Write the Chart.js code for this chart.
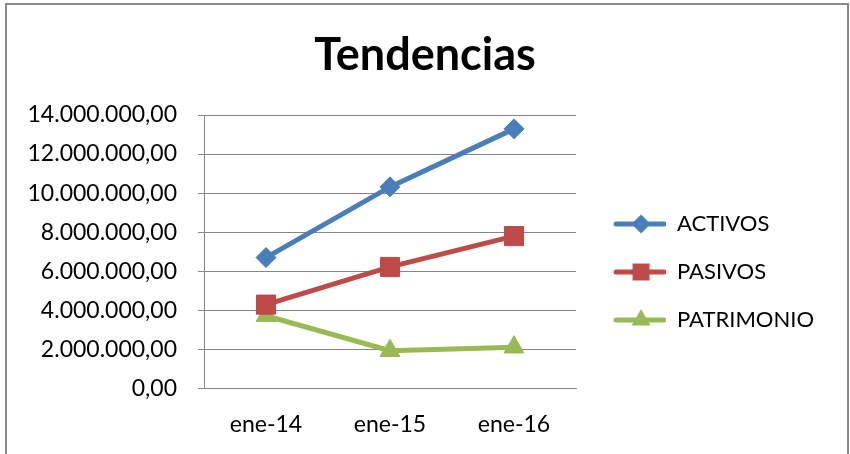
<!DOCTYPE html>
<html>
<head>
<meta charset="utf-8">
<script src="https://cdn.jsdelivr.net/npm/chart.js@4/dist/chart.umd.min.js"></script>
<style>
  html, body { margin: 0; padding: 0; background: #fff; }
  #wrap { width: 850px; height: 454px; }
</style>
</head>
<body>
<div id="wrap"><canvas id="tendencias-chart" width="850" height="454"></canvas></div>
<script>
// datos
const periodos = ["ene-14", "ene-15", "ene-16"];
const activos = [6700000, 10320000, 13290000];
const pasivos = [4290000, 6220000, 7800000];
const patrimonio = [3720000, 1930000, 2110000];
const nombres = ["ACTIVOS", "PASIVOS", "PATRIMONIO"];
const colores = ["#4A7EBB", "#BE4B48", "#98B954"];

Chart.defaults.font.family = "Lato, 'Open Sans', sans-serif";
Chart.defaults.color = "#000";

function formato(v) {
    let partes = Math.round(v).toString().replace(/\B(?=(\d{3})+(?!\d))/g, ".");
    return partes + ",00";
}

// icono de leyenda: linea con marcador
function iconoLeyenda(color, estilo, radio) {
    const c = document.createElement("canvas");
    c.width = 64;
    c.height = 26;
    const ctx = c.getContext("2d");
    ctx.strokeStyle = color;
    ctx.lineWidth = 5;
    ctx.lineCap = "round";
    ctx.beginPath();
    ctx.moveTo(14, 13);
    ctx.lineTo(62, 13);
    ctx.stroke();
    ctx.fillStyle = color;
    Chart.helpers.drawPoint(ctx, { pointStyle: estilo, radius: radio, rotation: 0, borderWidth: 0 }, 39, 13);
    return c;
}

const estilos = ["rectRot", "rect", "triangle"];
const radios = [10, 13.5, 11.5];
const iconos = [
    iconoLeyenda(colores[0], "rectRot", 9.5),
    iconoLeyenda(colores[1], "rect", 12),
    iconoLeyenda(colores[2], "triangle", 11)
];

const marco = {
    id: "marco",
    afterDraw: function (chart) {
        const ctx = chart.ctx;
        ctx.save();
        ctx.strokeStyle = "#898989";
        ctx.lineWidth = 2;
        ctx.strokeRect(6, 4, 842, 470);
        ctx.restore();
    }
};

const series = [activos, pasivos, patrimonio];

new Chart(document.getElementById("tendencias-chart"), {
    type: 'line',
    data: {
        labels: periodos,
        datasets: series.map(function (datos, i) {
            return {
                label: nombres[i],
                data: datos,
                borderColor: colores[i],
                backgroundColor: colores[i],
                borderWidth: 5,
                pointStyle: estilos[i],
                pointRadius: radios[i],
                pointHoverRadius: radios[i],
                pointBorderWidth: 1,
                tension: 0
            };
        })
    },
    options: {
        responsive: false,
        animation: false,
        layout: {
            padding: { top: 8, left: 26, right: 26, bottom: 2 }
        },
        plugins: {
            title: {
                display: true,
                text: 'Tendencias',
                font: { size: 45, weight: 'bold' },
                color: '#000',
                padding: { top: 20, bottom: 33 }
            },
            legend: {
                position: 'right',
                align: 'start',
                maxWidth: 320,
                title: {
                    display: true,
                    text: '',
                    font: { size: 10 },
                    padding: { top: 167, bottom: 0 }
                },
                labels: {
                    usePointStyle: true,
                    pointStyleWidth: 64,
                    padding: 26,
                    font: { size: 22 },
                    color: '#000',
                    generateLabels: function (chart) {
                        const items = Chart.defaults.plugins.legend.labels.generateLabels(chart);
                        items.forEach(function (it, i) { it.pointStyle = iconos[i]; });
                        return items;
                    }
                }
            },
            tooltip: { enabled: false }
        },
        scales: {
            x: {
                offset: true,
                grid: { display: false },
                border: { display: true, color: '#868686', width: 1 },
                ticks: { font: { size: 23 }, padding: 14, color: '#000' }
            },
            y: {
                min: 0,
                max: 14000000,
                afterFit: function (scale) { scale.width = 178; },
                grid: { color: '#868686', lineWidth: 1, tickLength: 6 },
                border: { display: true, color: '#868686', width: 1 },
                ticks: {
                    stepSize: 2000000,
                    padding: 21,
                    font: { size: 23 },
                    color: '#000',
                    callback: function (v) { return formato(v); }
                }
            }
        }
    },
    plugins: [marco]
});
</script>
</body>
</html>
